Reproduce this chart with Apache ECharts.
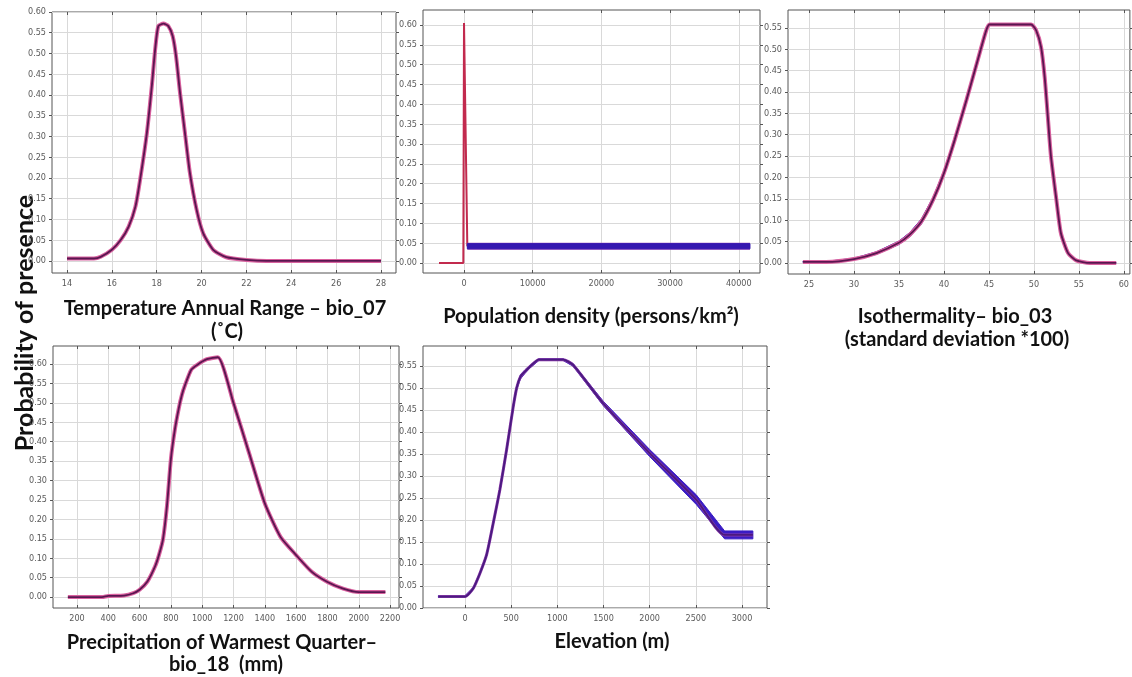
<!DOCTYPE html>
<html>
<head>
<meta charset="utf-8">
<title>Response curves</title>
<script src="https://cdn.jsdelivr.net/npm/echarts@6/dist/echarts.min.js"></script>
<style>
  html, body { margin: 0; padding: 0; background: #fff; }
  #chart { width: 1132px; height: 677px; }
</style>
</head>
<body>
<div id="chart"></div>
<script>
// Temperature Annual Range - bio_07
const bio07X = [14.0, 15.2, 15.5, 16.0, 16.4, 16.75, 17.05, 17.26, 17.56, 17.78, 17.93, 18.07, 18.3, 18.52, 18.71, 18.86, 19.04, 19.26, 19.48, 19.78, 20.07, 20.52, 21.1, 22.0, 22.9, 28.0];
const bio07Y = [0.006, 0.006, 0.010, 0.027, 0.051, 0.083, 0.131, 0.196, 0.308, 0.421, 0.510, 0.566, 0.572, 0.566, 0.542, 0.494, 0.405, 0.308, 0.212, 0.123, 0.067, 0.027, 0.009, 0.0025, 0.0, 0.0];
const bio07Ticks = [14, 16, 18, 20, 22, 24, 26, 28];

// Population density
const popX = [-3640, -100, 0, 480, 41630];
const popY = [0, 0, 0.605, 0.043, 0.0425];
const popBandX = [480, 41630];
const popBandLow = [0.036, 0.036];
const popBandHigh = [0.049, 0.049];
const popTicks = [0, 10000, 20000, 30000, 40000];

// Isothermality - bio_03
const bio03X = [24.33, 26.9, 30.0, 32.5, 35.0, 36.2, 37.5, 38.8, 40.0, 41.2, 42.5, 43.8, 44.7, 45.07, 49.7, 50.26, 50.8, 51.2, 51.55, 51.9, 52.5, 53.0, 53.8, 54.7, 56.2, 59.15];
const bio03Y = [0.0023, 0.0023, 0.009, 0.023, 0.047, 0.066, 0.097, 0.148, 0.21, 0.288, 0.381, 0.478, 0.544, 0.558, 0.558, 0.544, 0.505, 0.435, 0.342, 0.249, 0.148, 0.07, 0.023, 0.006, 0.0, 0.0];
const bio03Sd = [0.001, 0.001, 0.002, 0.003, 0.004, 0.005, 0.006, 0.006, 0.006, 0.005, 0.004, 0.003, 0.002, 0.002, 0.002, 0.004, 0.004, 0.003, 0.002, 0.002, 0.001, 0.001, 0.001, 0.001, 0.0, 0.0];
const bio03Ticks = [25, 30, 35, 40, 45, 50, 55, 60];

// Precipitation of Warmest Quarter - bio_18
const bio18X = [142, 360, 400, 500, 560, 600, 650, 700, 725, 750, 775, 800, 825, 850, 870, 890, 930, 970, 1030, 1100, 1200, 1300, 1400, 1500, 1600, 1700, 1800, 1900, 2000, 2170];
const bio18Y = [0, 0, 0.003, 0.004, 0.010, 0.019, 0.040, 0.080, 0.110, 0.150, 0.235, 0.355, 0.430, 0.485, 0.520, 0.545, 0.585, 0.598, 0.612, 0.617, 0.499, 0.370, 0.241, 0.155, 0.108, 0.065, 0.039, 0.022, 0.013, 0.013];
const bio18Ticks = [200, 400, 600, 800, 1000, 1200, 1400, 1600, 1800, 2000, 2200];

// Elevation
const elevX = [-288, 0, 90, 162, 234, 306, 378, 450, 523, 560, 600, 650, 703, 800, 1063, 1171, 1496, 2000, 2505, 2812, 3118];
const elevY = [0.026, 0.026, 0.045, 0.079, 0.121, 0.193, 0.269, 0.359, 0.458, 0.50, 0.525, 0.537, 0.548, 0.564, 0.564, 0.552, 0.465, 0.352, 0.246, 0.166, 0.166];
const elevSd = [0.002, 0.002, 0.002, 0.002, 0.002, 0.002, 0.002, 0.002, 0.003, 0.004, 0.005, 0.004, 0.003, 0.002, 0.002, 0.003, 0.005, 0.008, 0.011, 0.009, 0.009];
const elevTicks = [0, 500, 1000, 1500, 2000, 2500, 3000];

const probTicks60 = [0, 0.05, 0.1, 0.15, 0.2, 0.25, 0.3, 0.35, 0.4, 0.45, 0.5, 0.55, 0.6];
const probTicks55 = [0, 0.05, 0.1, 0.15, 0.2, 0.25, 0.3, 0.35, 0.4, 0.45, 0.5, 0.55];

(function () {
  'use strict';

  const FRAME = '#555555';
  const GRID = '#d9d9d9';
  const LABEL = '#5a5a5a';
  const TICK_FONT = "'Liberation Sans Narrow', 'DejaVu Sans', sans-serif";
  const TITLE_FONT = "Lato, 'Open Sans', sans-serif";
  const HALO = '#d9619f';
  const CORE = '#5a1650';
  const BAND = '#3518b0';

  function zip(xs, ys) {
    return xs.map((x, i) => [x, ys[i]]);
  }

  const panels = [
    { box: [52, 12, 344, 261], x: [13.33, 28.67], y: [-0.029, 0.60], xTicks: bio07Ticks, yTicks: probTicks60 },
    { box: [423, 10, 337, 263], x: [-5970, 43090], y: [-0.025, 0.638], xTicks: popTicks, yTicks: probTicks60 },
    { box: [788, 10, 342, 264], x: [22.67, 60.67], y: [-0.026, 0.592], xTicks: bio03Ticks, yTicks: probTicks55 },
    { box: [53, 346, 346, 262], x: [47, 2257], y: [-0.028, 0.646], xTicks: bio18Ticks, yTicks: probTicks60 },
    { box: [423, 346, 344, 262], x: [-455, 3271], y: [0, 0.595], xTicks: elevTicks, yTicks: probTicks55 }
  ];

  const option = {
    backgroundColor: '#ffffff',
    animation: false,
    grid: [],
    xAxis: [],
    yAxis: [],
    series: [],
    graphic: []
  };

  panels.forEach(function (p, i) {
    option.grid.push({
      left: p.box[0], top: p.box[1], width: p.box[2], height: p.box[3],
      show: true, borderColor: FRAME, borderWidth: 1, backgroundColor: '#fff'
    });
    // stretch keyword goes through fontWeight into the canvas font string
    const labelStyle = { color: LABEL, fontSize: 9, fontWeight: 'condensed', fontFamily: TICK_FONT };
    option.xAxis.push({
      type: 'value', gridIndex: i, min: p.x[0], max: p.x[1], position: 'bottom',
      axisLine: { show: false, onZero: false },
      axisTick: { show: true, inside: true, length: 3, customValues: p.xTicks, lineStyle: { color: FRAME } },
      axisLabel: Object.assign({ customValues: p.xTicks, margin: 6, formatter: v => String(v) }, labelStyle),
      splitLine: { show: true, lineStyle: { color: GRID, width: 1 } }
    });
    option.xAxis.push({
      type: 'value', gridIndex: i, min: p.x[0], max: p.x[1], position: 'top',
      axisLine: { show: false, onZero: false },
      axisTick: { show: true, inside: true, length: 3, customValues: p.xTicks, lineStyle: { color: FRAME } },
      axisLabel: { show: false },
      splitLine: { show: false }
    });
    option.yAxis.push({
      type: 'value', gridIndex: i, min: p.y[0], max: p.y[1], position: 'left',
      axisLine: { show: false, onZero: false },
      axisTick: { show: true, inside: false, length: 3, customValues: p.yTicks, lineStyle: { color: FRAME } },
      axisLabel: Object.assign({ customValues: p.yTicks, margin: 6, formatter: v => v.toFixed(2) }, labelStyle),
      splitLine: { show: true, lineStyle: { color: GRID, width: 1 } }
    });
    option.yAxis.push({
      type: 'value', gridIndex: i, min: p.y[0], max: p.y[1], position: 'right',
      axisLine: { show: false, onZero: false },
      axisTick: { show: true, inside: false, length: 3, customValues: p.yTicks, lineStyle: { color: FRAME } },
      axisLabel: { show: false },
      splitLine: { show: false }
    });
  });

  // filled polygon between low and high, drawn once through the axis scales
  function addBand(i, xs, low, high, z, color) {
    option.series.push({
      type: 'custom', xAxisIndex: 2 * i, yAxisIndex: 2 * i, z: z,
      data: xs.map((x, k) => [x, low[k], high[k]]),
      encode: { x: 0, y: [1, 2] },
      clip: true, silent: true,
      renderItem: function (params, api) {
        if (params.dataIndex !== 0) return null;
        const pts = [];
        for (let k = 0; k < xs.length; k++) pts.push(api.coord([xs[k], high[k]]));
        for (let k = xs.length - 1; k >= 0; k--) pts.push(api.coord([xs[k], low[k]]));
        return {
          type: 'polygon', shape: { points: pts },
          style: { fill: color || BAND, stroke: color || BAND, lineWidth: 1 }
        };
      }
    });
  }

  function addCurve(i, xs, ys, z, halo, core, haloWidth) {
    option.series.push({
      type: 'line', xAxisIndex: 2 * i, yAxisIndex: 2 * i,
      data: zip(xs, ys), showSymbol: false, silent: true, smooth: 0.2,
      lineStyle: { width: haloWidth || 4, color: halo || HALO }, z: z
    });
    option.series.push({
      type: 'line', xAxisIndex: 2 * i, yAxisIndex: 2 * i,
      data: zip(xs, ys), showSymbol: false, silent: true, smooth: 0.2,
      lineStyle: { width: 1.8, color: core || CORE }, z: z + 1
    });
  }

  // bio_07
  addCurve(0, bio07X, bio07Y, 3);

  // population density
  option.series.push({
    type: 'line', xAxisIndex: 2, yAxisIndex: 2,
    data: zip(popX, popY), showSymbol: false, silent: true,
    lineStyle: { width: 2, color: '#c22a4e' }, z: 3
  });
  option.series.push({
    type: 'line', xAxisIndex: 2, yAxisIndex: 2,
    data: zip(popBandX, popBandHigh.map((h, k) => (h + popBandLow[k]) / 2)), showSymbol: false, silent: true,
    lineStyle: { width: 7, color: '#9a4ab8' }, z: 4
  });
  addBand(1, popBandX, popBandLow, popBandHigh, 5);

  // bio_03
  addBand(2, bio03X, bio03Y.map((v, k) => v - bio03Sd[k]), bio03Y.map((v, k) => v + bio03Sd[k]), 2);
  addCurve(2, bio03X, bio03Y, 3);

  // bio_18
  addCurve(3, bio18X, bio18Y, 3);

  // elevation
  addBand(4, elevX, elevY.map((v, k) => v - elevSd[k]), elevY.map((v, k) => v + elevSd[k]), 2, '#3a1cc4');
  addCurve(4, elevX, elevY, 3, '#8a3aa8', '#4a1a80', 3);

  function title(text, x, y) {
    return {
      type: 'text', x: x, y: y, silent: true,
      style: { text: text, font: 'bold 20px ' + TITLE_FONT, fill: '#111', align: 'center', verticalAlign: 'middle' }
    };
  }

  option.graphic = [
    title('Temperature Annual Range \u2013 bio_07', 225, 309),
    title('(\u02DAC)', 227, 332),
    title('Population density (persons/km\u00B2)', 591, 317),
    title('Isothermality\u2013 bio_03', 955, 317),
    title('(standard deviation *100)', 957, 340),
    title('Precipitation of Warmest Quarter\u2013', 222, 643),
    title('bio_18  (mm)', 226, 665),
    title('Elevation (m)', 612, 642),
    {
      type: 'text', x: 25, y: 323, rotation: Math.PI / 2, silent: true,
      style: { text: 'Probability of presence', font: 'bold 25px ' + TITLE_FONT, fill: '#111', align: 'center', verticalAlign: 'middle' }
    }
  ];

  const chart = echarts.init(document.getElementById('chart'), null, { renderer: 'canvas' });
  chart.setOption(option);
})();
</script>
</body>
</html>
